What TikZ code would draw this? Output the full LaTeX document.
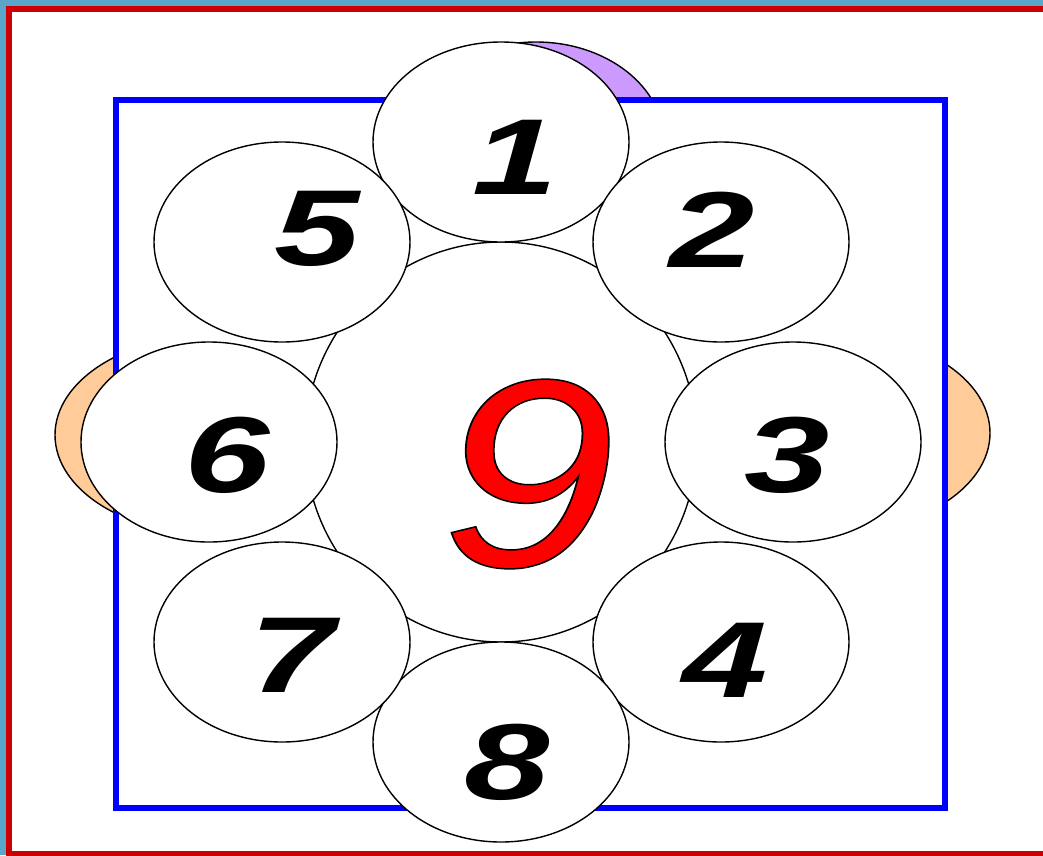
\documentclass[tikz,border=0pt]{standalone}
\usepackage{fontspec}
\setmainfont{Liberation Sans}
\usetikzlibrary{shapes.geometric}

\definecolor{sky}{HTML}{5AA6CA}
\definecolor{frame}{HTML}{CC0000}
\definecolor{peach}{HTML}{FFCC99}
\definecolor{lilac}{HTML}{CC99FF}

\newcommand{\wdigit}[2][1.42]{\scalebox{#1}[1]{#2}}

\begin{document}
\begin{tikzpicture}[x=1pt, y=-1pt,
  petal/.style={draw, ellipse, fill=white, line width=1.4pt,
    minimum width=256pt, minimum height=200pt, inner sep=0pt},
  hub/.style={petal, minimum width=392pt, minimum height=400pt},
  num/.style={font=\fontsize{108}{108}\selectfont\bfseries\itshape,
    inner sep=0pt},
  nine/.style={font=\fontsize{268}{268}\selectfont\itshape,
    text=red, inner sep=0pt},
  back/.style={draw, line width=1.4pt}
]
\useasboundingbox (0,0) rectangle (1043,855);
\fill[sky] (0,0) rectangle (1043,855);
\draw[frame, line width=6pt, fill=white] (9,9) rectangle (1060,854);

% shapes half hidden behind the square
\filldraw[back, fill=lilac] (536,142) ellipse [x radius=128pt, y radius=100pt];
\filldraw[back, fill=peach] (215,435) ellipse [x radius=160pt, y radius=100pt];
\filldraw[back, fill=peach] (830,433) ellipse [x radius=160pt, y radius=100pt];

\draw[blue, line width=6pt, fill=white] (116,100) rectangle (945,808);

\node[hub] (hub) at (501,442) {};

\node[petal] (p1) at (501,142) {};
\node[petal] (p2) at (721,242) {};
\node[petal] (p3) at (793,442) {};
\node[petal] (p4) at (721,642) {};
\node[petal] (p8) at (501,742) {};
\node[petal] (p7) at (282,642) {};
\node[petal] (p6) at (209,442) {};
\node[petal] (p5) at (282,242) {};

\node[num] (n1) at (515,157) {\wdigit{1}};
\node[num] (n2) at (712,230) {\wdigit{2}};
\node[num] (n3) at (787,455) {\wdigit{3}};
\node[num] (n4) at (725,660) {\wdigit{4}};
\node[num] (n5) at (317,229) {\wdigit{5}};
\node[num] (n6) at (227,455) {\wdigit{6}};
\node[num] (n7) at (292,655) {\wdigit{7}};
\node[num] (n8) at (507,762) {\wdigit{8}};
\node[nine] (n9) at (528,474)
  {\wdigit[1.17]{\special{pdf:literal direct 2 Tr 1.5 w 0 G}9\special{pdf:literal direct 0 Tr}}};
\end{tikzpicture}
\end{document}
